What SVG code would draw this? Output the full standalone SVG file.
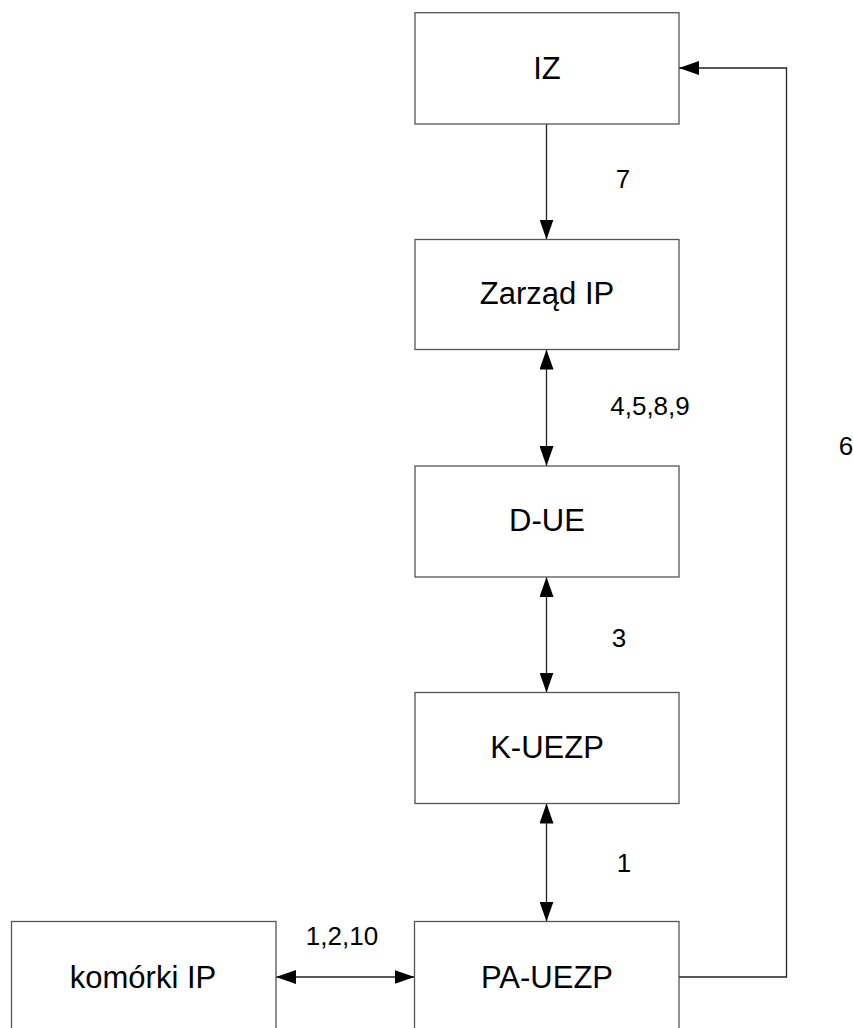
<svg xmlns="http://www.w3.org/2000/svg" width="853" height="1028" viewBox="0 0 853 1028">
<style>
.box{fill:#fff;stroke:#555;stroke-width:1.3}
.t{font-family:"Liberation Sans",Arial,sans-serif;font-size:31px;fill:#000;text-anchor:middle}
.l{font-family:"Liberation Sans",Arial,sans-serif;font-size:26px;fill:#000;text-anchor:middle}
.c{fill:none;stroke:#222;stroke-width:1.3}
</style>
<defs>
<marker id="ah" viewBox="0 0 20 14" refX="20" refY="7" markerWidth="20" markerHeight="14" markerUnits="userSpaceOnUse" orient="auto-start-reverse">
<path d="M0,0 L20,7 L0,14 Z" fill="#000"/>
</marker>
</defs>
<g id="connectors">
<line class="c" x1="546.5" y1="124" x2="546.5" y2="239.5" marker-end="url(#ah)"/>
<line class="c" x1="546.5" y1="349.5" x2="546.5" y2="466" marker-start="url(#ah)" marker-end="url(#ah)"/>
<line class="c" x1="546.5" y1="577" x2="546.5" y2="692.5" marker-start="url(#ah)" marker-end="url(#ah)"/>
<line class="c" x1="546.5" y1="803.5" x2="546.5" y2="921.5" marker-start="url(#ah)" marker-end="url(#ah)"/>
<line class="c" x1="276" y1="977" x2="414.5" y2="977" marker-start="url(#ah)" marker-end="url(#ah)"/>
<polyline class="c" points="679,977 786.5,977 786.5,68 679,68" marker-end="url(#ah)"/>
<text class="l" x="623" y="188">7</text>
<text class="l" x="650" y="415">4,5,8,9</text>
<text class="l" x="619" y="647">3</text>
<text class="l" x="624" y="872">1</text>
<text class="l" x="846" y="455">6</text>
<text class="l" x="342" y="945">1,2,10</text>
</g>
<g id="iz"><rect class="box" x="415" y="12.7" width="264" height="111.3"/><text class="t" x="547" y="79">IZ</text></g>
<g id="zarzad"><rect class="box" x="415" y="239.5" width="264" height="110"/><text class="t" x="547" y="304">Zarząd IP</text></g>
<g id="due"><rect class="box" x="415" y="466" width="264" height="111"/><text class="t" x="547" y="531">D-UE</text></g>
<g id="kuezp"><rect class="box" x="415" y="692.5" width="264" height="111"/><text class="t" x="547" y="758">K-UEZP</text></g>
<g id="pauezp"><rect class="box" x="414.5" y="921.5" width="264.5" height="115"/><text class="t" x="547" y="988">PA-UEZP</text></g>
<g id="komorki"><rect class="box" x="11.5" y="921.5" width="264.5" height="115"/><text class="t" x="143" y="988">komórki IP</text></g>
</svg>
